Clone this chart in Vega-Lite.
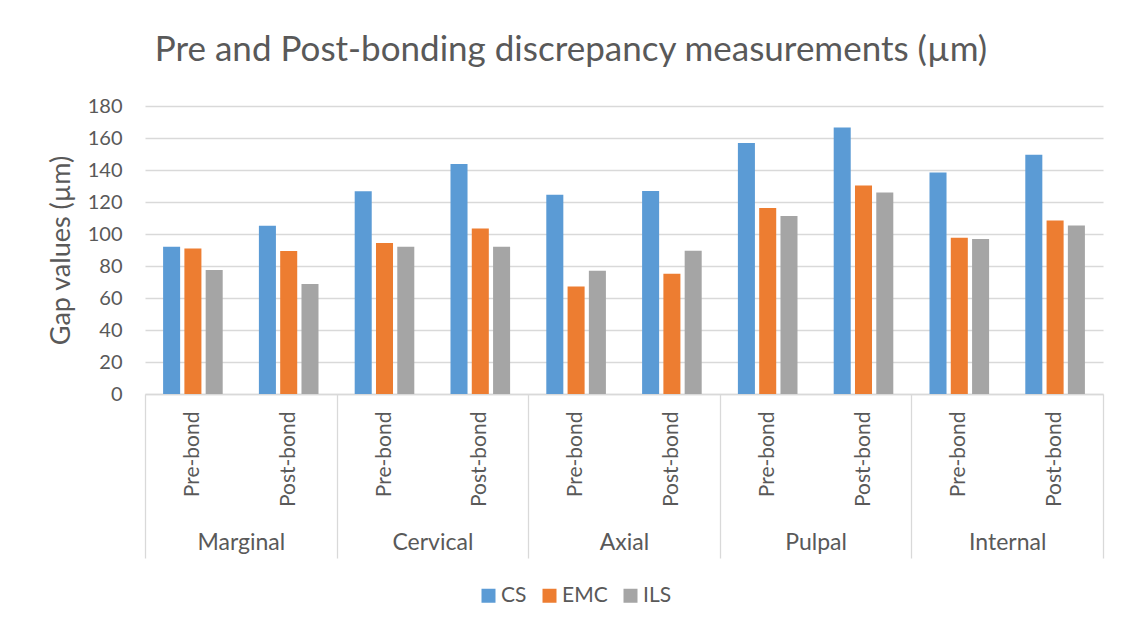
{
  "$schema": "https://vega.github.io/schema/vega-lite/v6.json",
  "width": 958,
  "height": 288,
  "autosize": {"type": "none"},
  "padding": {"left": 145, "top": 106, "right": 29, "bottom": 236},
  "background": "white",
  "title": {
    "text": "Pre and Post-bonding discrepancy measurements (µm)",
    "font": "Lato",
    "fontSize": 35,
    "fontWeight": "normal",
    "color": "#595959",
    "anchor": "middle",
    "baseline": "alphabetic",
    "dx": -53,
    "offset": 0
  },
  "config": {
    "view": {"stroke": null},
    "axis": {"labelFont": "Lato", "titleFont": "Lato", "labelColor": "#595959", "titleColor": "#595959"}
  },
  "layer": [
    {
      "data": {
        "values": [
          {"category": "Marginal|Pre-bond", "series": "CS", "value": 92.0},
          {"category": "Marginal|Pre-bond", "series": "EMC", "value": 91.0},
          {"category": "Marginal|Pre-bond", "series": "ILS", "value": 77.5},
          {"category": "Marginal|Post-bond", "series": "CS", "value": 105.1},
          {"category": "Marginal|Post-bond", "series": "EMC", "value": 89.3},
          {"category": "Marginal|Post-bond", "series": "ILS", "value": 68.7},
          {"category": "Cervical|Pre-bond", "series": "CS", "value": 126.7},
          {"category": "Cervical|Pre-bond", "series": "EMC", "value": 94.3},
          {"category": "Cervical|Pre-bond", "series": "ILS", "value": 92.0},
          {"category": "Cervical|Post-bond", "series": "CS", "value": 143.8},
          {"category": "Cervical|Post-bond", "series": "EMC", "value": 103.4},
          {"category": "Cervical|Post-bond", "series": "ILS", "value": 92.0},
          {"category": "Axial|Pre-bond", "series": "CS", "value": 124.6},
          {"category": "Axial|Pre-bond", "series": "EMC", "value": 67.2},
          {"category": "Axial|Pre-bond", "series": "ILS", "value": 77.0},
          {"category": "Axial|Post-bond", "series": "CS", "value": 126.9},
          {"category": "Axial|Post-bond", "series": "EMC", "value": 75.1},
          {"category": "Axial|Post-bond", "series": "ILS", "value": 89.5},
          {"category": "Pulpal|Pre-bond", "series": "CS", "value": 156.9},
          {"category": "Pulpal|Pre-bond", "series": "EMC", "value": 116.3},
          {"category": "Pulpal|Pre-bond", "series": "ILS", "value": 111.3},
          {"category": "Pulpal|Post-bond", "series": "CS", "value": 166.5},
          {"category": "Pulpal|Post-bond", "series": "EMC", "value": 130.3},
          {"category": "Pulpal|Post-bond", "series": "ILS", "value": 125.9},
          {"category": "Internal|Pre-bond", "series": "CS", "value": 138.4},
          {"category": "Internal|Pre-bond", "series": "EMC", "value": 97.6},
          {"category": "Internal|Pre-bond", "series": "ILS", "value": 96.8},
          {"category": "Internal|Post-bond", "series": "CS", "value": 149.6},
          {"category": "Internal|Post-bond", "series": "EMC", "value": 108.4},
          {"category": "Internal|Post-bond", "series": "ILS", "value": 105.3}
        ]
      },
      "mark": {"type": "bar"},
      "encoding": {
        "x": {
          "field": "category",
          "type": "nominal",
          "sort": null,
          "scale": {"paddingInner": 0, "paddingOuter": 0},
          "axis": {
            "orient": "bottom",
            "title": null,
            "labelExpr": "split(datum.label, '|')[1]",
            "labelAngle": 270,
            "labelFontSize": 21,
            "labelPadding": 17,
            "labelOverlap": false,
            "ticks": false,
            "grid": false,
            "domain": true,
            "domainColor": "#d9d9d9",
            "domainWidth": 1.3
          }
        },
        "xOffset": {
          "field": "series",
          "type": "nominal",
          "scale": {"paddingInner": 0.2, "paddingOuter": 0.85}
        },
        "y": {
          "field": "value",
          "type": "quantitative",
          "scale": {"domain": [0, 180], "nice": false},
          "axis": {
            "title": "Gap values (µm)",
            "titleFontSize": 27,
            "titleFontWeight": "normal",
            "titlePadding": 12,
            "values": [0, 20, 40, 60, 80, 100, 120, 140, 160, 180],
            "labelFontSize": 20,
            "labelPadding": 23,
            "ticks": false,
            "domain": false,
            "gridColor": "#d9d9d9",
            "gridWidth": 1.3
          }
        },
        "color": {
          "field": "series",
          "type": "nominal",
          "scale": {"domain": ["CS", "EMC", "ILS"], "range": ["#5b9bd5", "#ed7d31", "#a5a5a5"]},
          "legend": {
            "title": null,
            "orient": "none",
            "direction": "horizontal",
            "legendX": 333,
            "legendY": 479,
            "padding": 0,
            "symbolType": "square",
            "symbolSize": 196,
            "symbolStrokeWidth": 0,
            "labelFont": "Lato",
            "labelFontSize": 21,
            "labelColor": "#595959",
            "labelOffset": 2,
            "columnPadding": 12
          }
        }
      }
    },
    {
      "data": {
        "values": [
          {"group": "Marginal"},
          {"group": "Cervical"},
          {"group": "Axial"},
          {"group": "Pulpal"},
          {"group": "Internal"}
        ]
      },
      "mark": {"type": "text", "text": ""},
      "encoding": {
        "x": {
          "field": "group",
          "type": "nominal",
          "sort": null,
          "scale": {"paddingInner": 0, "paddingOuter": 0},
          "axis": {
            "orient": "bottom",
            "title": null,
            "labelAngle": 0,
            "labelFontSize": 23,
            "labelPadding": -27,
            "tickBand": "extent",
            "ticks": true,
            "tickSize": 164,
            "tickColor": "#d9d9d9",
            "tickWidth": 1.3,
            "grid": false,
            "domain": false
          }
        }
      }
    }
  ],
  "resolve": {"scale": {"x": "independent"}, "axis": {"x": "independent"}}
}
